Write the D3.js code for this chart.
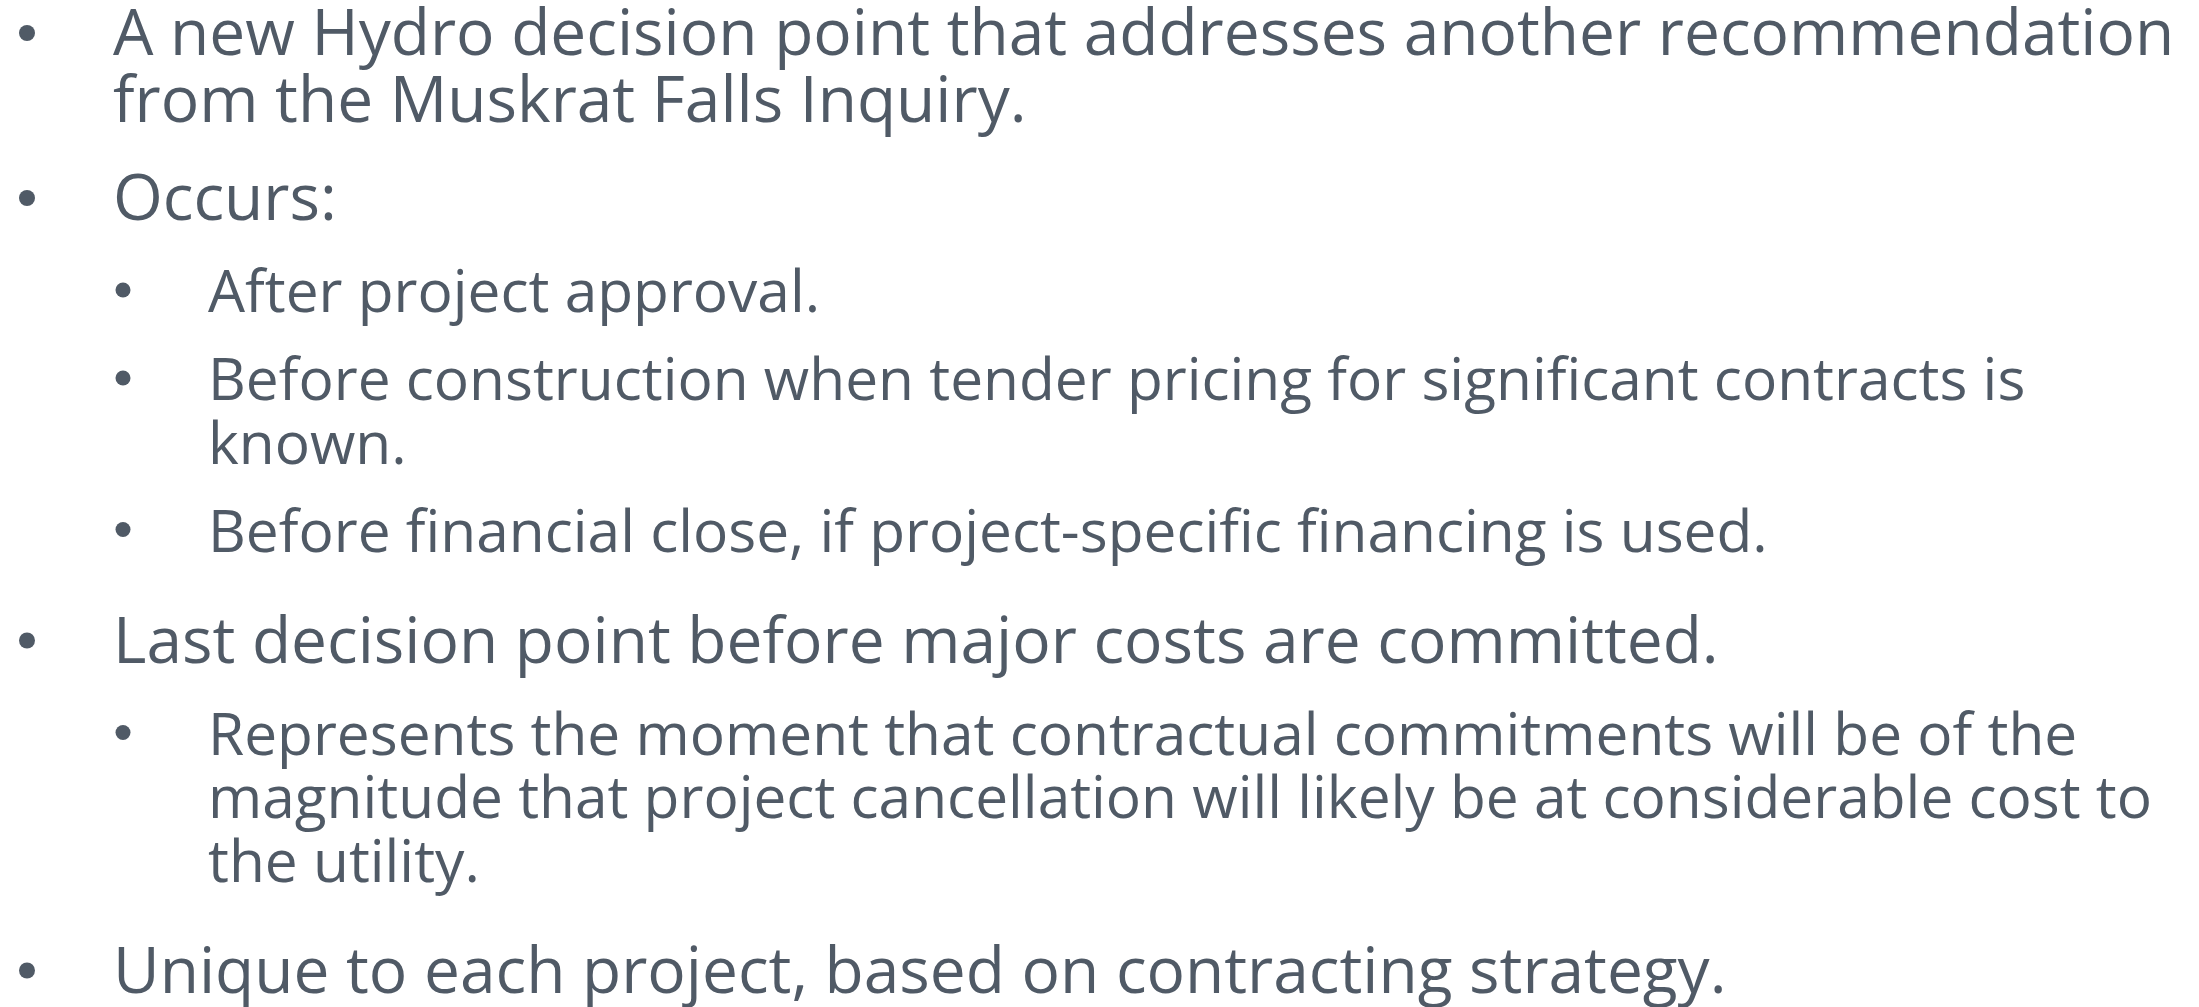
<!DOCTYPE html>
<html>
<head>
<meta charset="utf-8">
<script src="https://cdn.jsdelivr.net/npm/d3@7"></script>
<style>
  html, body { margin: 0; padding: 0; background: #ffffff; }
  svg { display: block; }
  .line { font-family: "Open Sans", sans-serif; fill: #505a66; }
</style>
</head>
<body>
<div id="slide"></div>
<script>
// Slide content: one entry per paragraph, wrapped lines as in the reference
const paragraphLevels = [1, 1, 2, 2, 2, 1, 2, 1];
const paragraphLines = [
  ["A new Hydro decision point that addresses another recommendation", "from the Muskrat Falls Inquiry."],
  ["Occurs:"],
  ["After project approval."],
  ["Before construction when tender pricing for significant contracts is", "known."],
  ["Before financial close, if project-specific financing is used."],
  ["Last decision point before major costs are committed."],
  ["Represents the moment that contractual commitments will be of the", "magnitude that project cancellation will likely be at considerable cost to", "the utility."],
  ["Unique to each project, based on contracting strategy."]
];

let width = 2199;
let height = 1007;

// Style by level
let fontSize = { 1: 64, 2: 58.6 };
let textX = { 1: 113, 2: 208 };
let bulletX = { 1: 27, 2: 123 };
let bulletR = { 1: 8, 2: 7.5 };
let wrapStep = { 1: 67, 2: 63.5 };
// baseline advance when a new paragraph starts: [previous level][current level]
let paraStep = { 1: { 1: 98, 2: 92 }, 2: { 1: 111, 2: 88 } };
let firstBaseline = 55;

// Flatten paragraphs into lines with baselines
let rows = [];
let y = firstBaseline;
paragraphLines.forEach((lines, p) => {
  let level = paragraphLevels[p];
  if (p > 0) y += paraStep[paragraphLevels[p - 1]][level];
  lines.forEach((t, i) => {
    if (i > 0) y += wrapStep[level];
    rows.push({ text: t, level: level, y: y, first: i === 0 });
  });
});

let svg = d3.select("#slide")
  .append("svg")
  .attr("width", width)
  .attr("height", height);

// Bullets
svg.selectAll("circle.bullet")
  .data(rows.filter(d => d.first))
  .join("circle")
  .attr("class", "bullet")
  .attr("cx", d => bulletX[d.level])
  .attr("cy", d => d.y - 22)
  .attr("r", d => bulletR[d.level])
  .attr("fill", "#505a66");

// Text lines
svg.selectAll("text.line")
  .data(rows)
  .join("text")
  .attr("class", "line")
  .attr("x", d => textX[d.level])
  .attr("y", d => d.y)
  .attr("font-size", d => fontSize[d.level])
  .text(d => d.text);
</script>
</body>
</html>
